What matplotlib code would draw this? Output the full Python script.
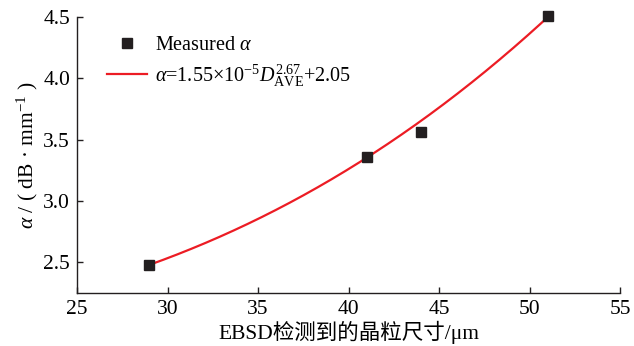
import numpy as np
import matplotlib
matplotlib.use('Agg')
import matplotlib.pyplot as plt

plt.rcParams['font.family'] = ['Liberation Serif', 'Noto Sans CJK SC']
plt.rcParams['mathtext.fontset'] = 'custom'
plt.rcParams['mathtext.rm'] = 'Liberation Serif'
plt.rcParams['mathtext.it'] = 'Liberation Serif:italic'
plt.rcParams['font.size'] = 15.5

# measured attenuation vs. EBSD grain size
grain_size = [29, 41, 44, 51]
alpha_measured = [2.48, 3.36, 3.56, 4.51]

# power-law fit  alpha = a * D^b + c
fit_a = 7.15e-5
fit_b = 2.67
fit_c = 1.906

fig = plt.figure(figsize=(6.34, 3.46), dpi=100)
ax = fig.add_axes([0.1215, 0.153, 0.8565, 0.798])

d = np.linspace(min(grain_size), max(grain_size), 200)
ax.plot(d, fit_a * d ** fit_b + fit_c, color='#ec1c24', lw=1.6,
        label=r'$\alpha$=1.55×10$^{-5}$$D_{\rm AVE}^{2.67}$+2.05', zorder=2)
ax.plot(grain_size, alpha_measured, 's', color='#231f20', ms=7,
        label=r'Measured $\alpha$', clip_on=False, zorder=3)

ax.set_xlim(25, 55)
ax.set_ylim(2.25, 4.5)
ax.set_xticks([25, 30, 35, 40, 45, 50, 55])
ax.set_yticks([2.5, 3.0, 3.5, 4.0, 4.5])
ax.set_yticklabels(['2.5', '3.0', '3.5', '4.0', '4.5'])

for side in ['top', 'right']:
    ax.spines[side].set_visible(False)
for side in ['left', 'bottom']:
    ax.spines[side].set_color('#231f20')
    ax.spines[side].set_linewidth(1.0)
ax.tick_params(direction='in', length=4, width=1, color='#231f20', labelsize=15.5, pad=5)

ax.set_xlabel('EBSD检测到的晶粒尺寸/μm', fontsize=15.5, labelpad=1)
ax.set_ylabel(r'$\alpha$ / ( dB · mm$^{-1}$ )', fontsize=15.5, labelpad=2)

h, l = ax.get_legend_handles_labels()
ax.legend(h[::-1], l[::-1], loc='upper left', bbox_to_anchor=(0.04, 0.96),
          frameon=False, fontsize=14.5, handlelength=2.0, handletextpad=0.4,
          labelspacing=0.35, borderaxespad=0)

fig.savefig('out.png', dpi=100)
